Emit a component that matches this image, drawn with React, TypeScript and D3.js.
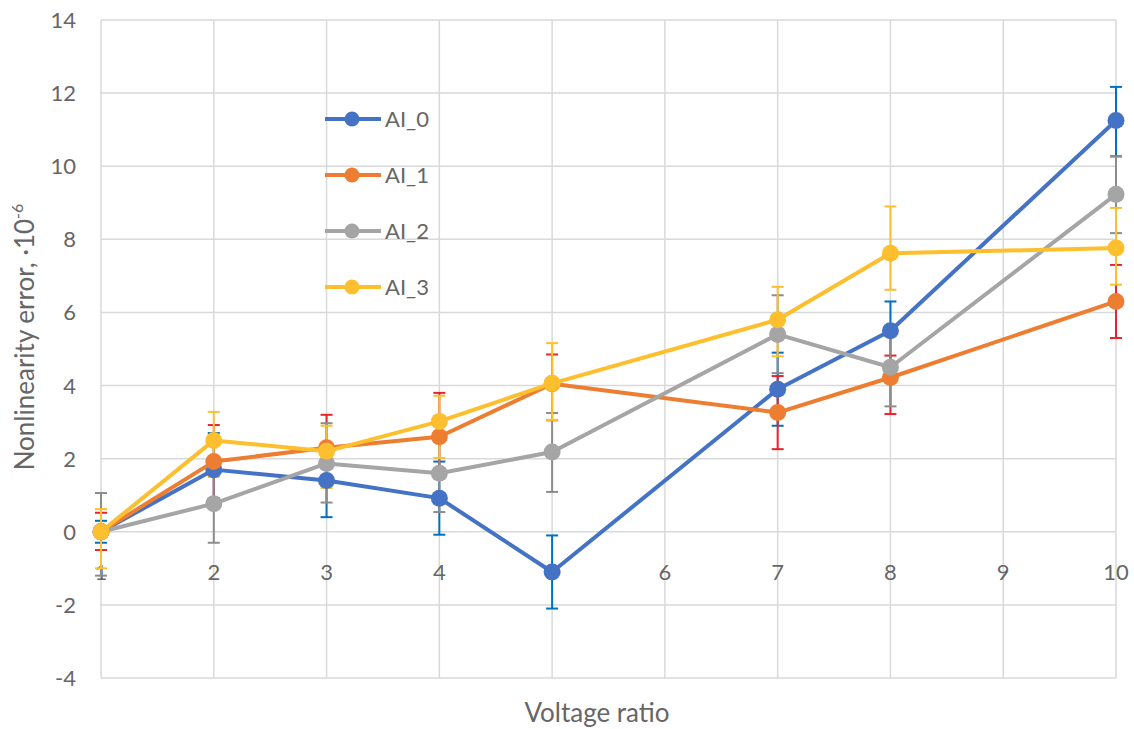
import React, { useEffect, useRef } from 'react';
import * as d3 from 'd3';

const W = 1134;
const H = 729;

const ratios = [1, 2, 3, 4, 5, 7, 8, 10];
const seriesNames = ['AI_0', 'AI_1', 'AI_2', 'AI_3'];
const ai0 = [0, 1.7, 1.4, 0.92, -1.1, 3.9, 5.5, 11.25];
const ai1 = [0, 1.92, 2.3, 2.6, 4.05, 3.26, 4.22, 6.3];
const ai2 = [0, 0.77, 1.87, 1.6, 2.18, 5.4, 4.5, 9.23];
const ai3 = [0, 2.5, 2.2, 3.02, 4.06, 5.8, 7.62, 7.76];
const ai0Plus = [0.3, 1, 1, 1, 1, 1, 0.8, 0.92];
const ai0Minus = [0.3, 1, 1, 1, 1, 1, 1, 0.98];
const ai1Plus = [0.52, 1.0, 0.9, 1.2, 0.8, 1.0, 0.6, 1.0];
const ai1Minus = [0.5, 1, 1, 1, 1, 1, 1, 1];
const ai2Plus = [1.06, 1.07, 1.1, 1.07, 1.07, 1.07, 1.07, 1.04];
const ai2Minus = [1.2, 1.07, 1.07, 1.06, 1.09, 1.06, 1.07, 1.06];
const ai3Plus = [0.62, 0.78, 0.7, 0.7, 1.1, 0.9, 1.28, 1.1];
const ai3Minus = [1, 1, 1, 1, 1, 1, 1, 1];

const lineColors = ['#4472C4', '#ED7D31', '#A5A5A5', '#FDBF2D'];
const errColors = ['#0070C0', '#E8242B', '#8C8C8C', '#FDBF2D'];

const xTicks = d3.range(1, 11);
const yTicks = d3.range(-4, 15, 2);

const FONT = 'Lato, "Open Sans", sans-serif';
const TXT = '#666666';

export default function App() {
  const svgRef = useRef<SVGSVGElement>(null);

  useEffect(() => {
    document.body.style.margin = '0';
    const svg = d3.select(svgRef.current);
    svg.selectAll('*').remove();

    const x = d3.scaleLinear().domain([1, 10]).range([101, 1116]);
    const y = d3.scaleLinear().domain([-4, 14]).range([678, 20]);

    const series = [
      { name: seriesNames[0], vals: ai0, plus: ai0Plus, minus: ai0Minus },
      { name: seriesNames[1], vals: ai1, plus: ai1Plus, minus: ai1Minus },
      { name: seriesNames[2], vals: ai2, plus: ai2Plus, minus: ai2Minus },
      { name: seriesNames[3], vals: ai3, plus: ai3Plus, minus: ai3Minus },
    ];

    // grid
    const grid = svg.append('g');
    grid.selectAll('.vg').data(xTicks).enter().append('line')
      .attr('x1', d => x(d)).attr('x2', d => x(d))
      .attr('y1', y(14)).attr('y2', y(-4))
      .attr('stroke', '#d9d9d9').attr('stroke-width', 1.5);
    grid.selectAll('.hg').data(yTicks).enter().append('line')
      .attr('x1', x(1)).attr('x2', x(10))
      .attr('y1', d => y(d)).attr('y2', d => y(d))
      .attr('stroke', '#d9d9d9').attr('stroke-width', 1.5);

    // tick labels
    svg.append('g').selectAll('text').data(yTicks).enter().append('text')
      .attr('x', 76).attr('y', d => y(d) + 8)
      .attr('text-anchor', 'end')
      .attr('font-family', FONT).attr('font-size', 22).attr('fill', TXT)
      .text(d => d);
    svg.append('g').selectAll('text').data(xTicks).enter().append('text')
      .attr('x', d => x(d)).attr('y', y(0) + 48)
      .attr('text-anchor', 'middle')
      .attr('font-family', FONT).attr('font-size', 22).attr('fill', TXT)
      .text(d => d);

    // axis titles
    svg.append('text')
      .attr('x', 597).attr('y', 722)
      .attr('text-anchor', 'middle')
      .attr('font-family', FONT).attr('font-size', 26).attr('fill', TXT)
      .text('Voltage ratio');
    const yt = svg.append('text')
      .attr('transform', `translate(34, 337) rotate(-90)`)
      .attr('text-anchor', 'middle')
      .attr('font-family', FONT).attr('font-size', 26).attr('fill', TXT);
    yt.append('tspan').text('Nonlinearity error, ·10');
    yt.append('tspan').attr('dy', -11).attr('font-size', 16).text('-6');

    // error bars
    const cap = 6;
    series.forEach((s, i) => {
      const g = svg.append('g');
      ratios.forEach((r, j) => {
        const top = y(s.vals[j] + s.plus[j]);
        const bot = y(s.vals[j] - s.minus[j]);
        g.append('line').attr('x1', x(r)).attr('x2', x(r)).attr('y1', top).attr('y2', bot)
          .attr('stroke', errColors[i]).attr('stroke-width', 2);
        [top, bot].forEach(v => {
          g.append('line').attr('x1', x(r) - cap).attr('x2', x(r) + cap).attr('y1', v).attr('y2', v)
            .attr('stroke', errColors[i]).attr('stroke-width', 2);
        });
      });
    });

    // lines and markers
    const line = d3.line<number>().x((_, j) => x(ratios[j])).y(d => y(d));
    series.forEach((s, i) => {
      svg.append('path').datum(s.vals)
        .attr('fill', 'none').attr('stroke', lineColors[i])
        .attr('stroke-width', 4).attr('stroke-linejoin', 'round')
        .attr('d', line);
      svg.append('g').selectAll('circle').data(s.vals).enter().append('circle')
        .attr('cx', (_, j) => x(ratios[j])).attr('cy', d => y(d))
        .attr('r', 8.5).attr('fill', lineColors[i]);
    });

    // legend
    const lg = svg.append('g');
    series.forEach((s, i) => {
      const ly = 119 + i * 56;
      lg.append('line').attr('x1', 325).attr('x2', 381).attr('y1', ly).attr('y2', ly)
        .attr('stroke', lineColors[i]).attr('stroke-width', 4);
      lg.append('circle').attr('cx', 352).attr('cy', ly).attr('r', 7.5).attr('fill', lineColors[i]);
      lg.append('text').attr('x', 385).attr('y', ly + 8)
        .attr('font-family', FONT).attr('font-size', 22).attr('fill', TXT)
        .text(s.name);
    });
  }, []);

  return <svg ref={svgRef} width={W} height={H} style={{ display: 'block', background: '#fff' }} />;
}
